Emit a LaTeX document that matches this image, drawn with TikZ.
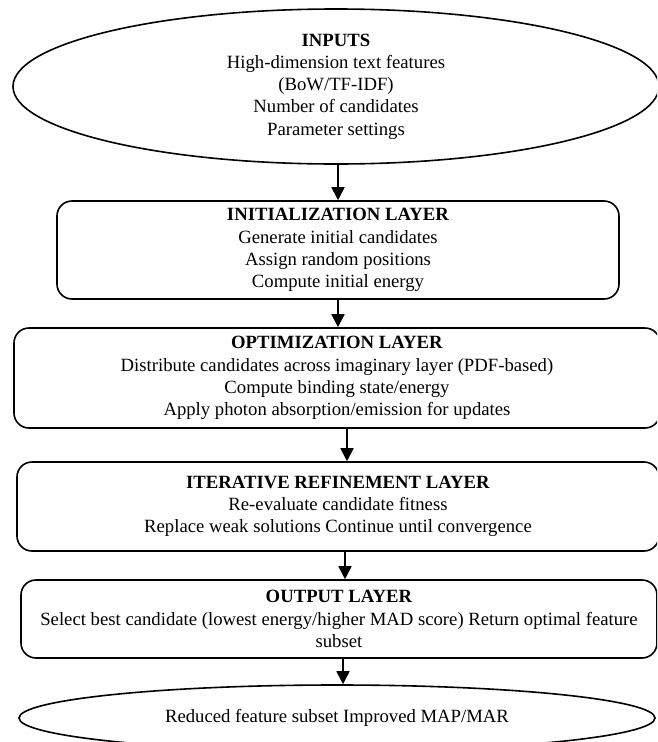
\documentclass[tikz,border=0pt]{standalone}
\usepackage{fontspec}
\setmainfont{Liberation Serif}
\usetikzlibrary{shapes.geometric,arrows.meta}
\tikzset{
  base/.style={draw=black, line width=1.6pt, align=center, inner sep=0pt,
    font=\fontsize{18.7}{22.2}\selectfont, text=black},
  layerbox/.style={base, rectangle, rounded corners=15pt},
  ovalbox/.style={base, ellipse},
  flowarrow/.style={line width=1.8pt, -{Triangle[length=13pt,width=13pt]}}
}
\begin{document}
\begin{tikzpicture}[x=1pt,y=-1pt]
\useasboundingbox (0,0) rectangle (657,742);
\clip (0,0) rectangle (657,742);
\fill[white] (0,0) rectangle (657,742);

\node[ovalbox, minimum width=646pt, minimum height=155pt] (inputs) at (336,86.5)
  {\textbf{INPUTS}\\High-dimension text features\\(BoW/TF-IDF)\\Number of candidates\\Parameter settings};

\node[layerbox, minimum width=562pt, minimum height=98pt] (init) at (338,250)
  {\textbf{INITIALIZATION LAYER}\\Generate initial candidates\\Assign random positions\\Compute initial energy};

\node[layerbox, minimum width=646pt, minimum height=100pt] (optim) at (337,378)
  {\textbf{OPTIMIZATION LAYER}\\Distribute candidates across imaginary layer (PDF-based)\\Compute binding state/energy\\Apply photon absorption/emission for updates};

\node[layerbox, minimum width=642pt, minimum height=89pt] (iter) at (338,506.5)
  {\textbf{ITERATIVE REFINEMENT LAYER}\\Re-evaluate candidate fitness\\Replace weak solutions Continue until convergence};

\node[layerbox, minimum width=636pt, minimum height=78pt] (outl) at (339,619)
  {\textbf{OUTPUT LAYER}\\Select best candidate (lowest energy/higher MAD score) Return optimal feature\\subset};

\node[ovalbox, minimum width=636pt, minimum height=66pt] (result) at (337,718)
  {Reduced feature subset Improved MAP/MAR};

\draw[flowarrow] ([xshift=2pt]inputs.south) -- ([xshift=0pt]init.north);
\draw[flowarrow] (init.south) -- ([xshift=1pt]optim.north);
\draw[flowarrow] ([xshift=10pt]optim.south) -- ([xshift=9pt]iter.north);
\draw[flowarrow] ([xshift=7pt]iter.south) -- ([xshift=6pt]outl.north);
\draw[flowarrow] ([xshift=4pt]outl.south) -- ([xshift=6pt]result.north);
\end{tikzpicture}
\end{document}
